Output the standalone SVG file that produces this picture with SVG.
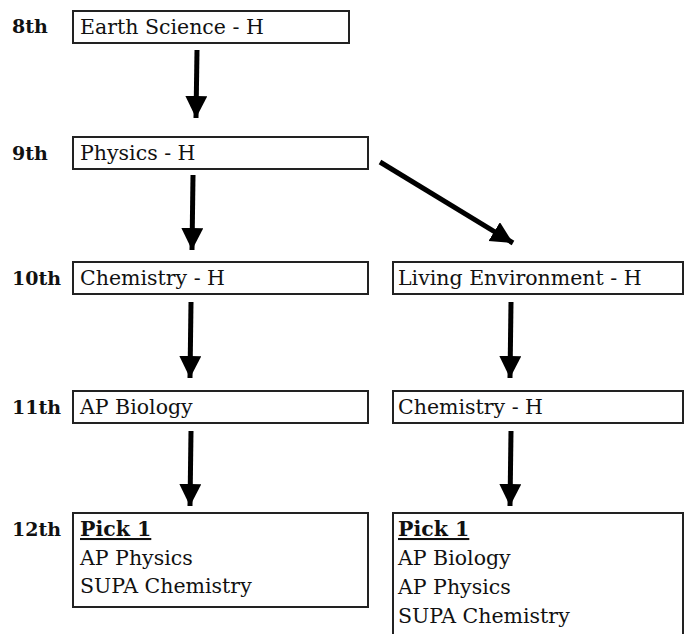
<svg xmlns="http://www.w3.org/2000/svg" width="685" height="634" viewBox="0 0 685 634">
<style>
.box{fill:#fff;stroke:#222;stroke-width:2}
.t{font-size:20.5px;fill:#111}
.lbl{font-size:19px;font-weight:bold;fill:#111}
.b{font-weight:bold}
.arr{stroke:#000;stroke-width:5;fill:none;marker-end:url(#ah)}
</style>
<defs>
<marker id="ah" markerUnits="userSpaceOnUse" markerWidth="24" markerHeight="24" refX="22" refY="11" orient="auto">
<path d="M0,0 L22,11 L0,22 Z" fill="#000"/>
</marker>
</defs>
<rect width="685" height="634" fill="#fff"/>
<g font-family="DejaVu Serif, Liberation Serif, serif">
<g id="labels">
<text class="lbl" x="12" y="33">8th</text>
<text class="lbl" x="12" y="160">9th</text>
<text class="lbl" x="12" y="285">10th</text>
<text class="lbl" x="12" y="414">11th</text>
<text class="lbl" x="12" y="536">12th</text>
</g>
<g id="earth">
<rect class="box" x="73" y="11" width="276" height="32"/>
<text class="t" x="80" y="34">Earth Science - H</text>
</g>
<g id="physics">
<rect class="box" x="73" y="137" width="295" height="32"/>
<text class="t" x="80" y="160">Physics - H</text>
</g>
<g id="chem10">
<rect class="box" x="73" y="262" width="295" height="32"/>
<text class="t" x="80" y="285">Chemistry - H</text>
</g>
<g id="living">
<rect class="box" x="393" y="262" width="290" height="32"/>
<text class="t" x="398" y="285">Living Environment - H</text>
</g>
<g id="apbio11">
<rect class="box" x="73" y="391" width="295" height="32"/>
<text class="t" x="80" y="414">AP Biology</text>
</g>
<g id="chem11">
<rect class="box" x="393" y="391" width="290" height="32"/>
<text class="t" x="398" y="414">Chemistry - H</text>
</g>
<g id="pick-left">
<rect class="box" x="73" y="513" width="295" height="94"/>
<text class="t b" x="80" y="536" text-decoration="underline">Pick 1</text>
<text class="t" x="80" y="565">AP Physics</text>
<text class="t" x="80" y="593">SUPA Chemistry</text>
</g>
<g id="pick-right">
<rect class="box" x="393" y="513" width="290" height="130"/>
<text class="t b" x="398" y="536" text-decoration="underline">Pick 1</text>
<text class="t" x="398" y="565">AP Biology</text>
<text class="t" x="398" y="594">AP Physics</text>
<text class="t" x="398" y="623">SUPA Chemistry</text>
</g>
</g>
<g id="connectors">
<line class="arr" x1="197" y1="50" x2="196" y2="118"/>
<line class="arr" x1="193" y1="175" x2="192" y2="250"/>
<line class="arr" x1="380" y1="162" x2="513" y2="243" stroke-width="6"/>
<line class="arr" x1="191" y1="302" x2="190" y2="378"/>
<line class="arr" x1="511" y1="302" x2="510" y2="378"/>
<line class="arr" x1="191" y1="431" x2="190" y2="506"/>
<line class="arr" x1="511" y1="431" x2="510" y2="506"/>
</g>
</svg>
